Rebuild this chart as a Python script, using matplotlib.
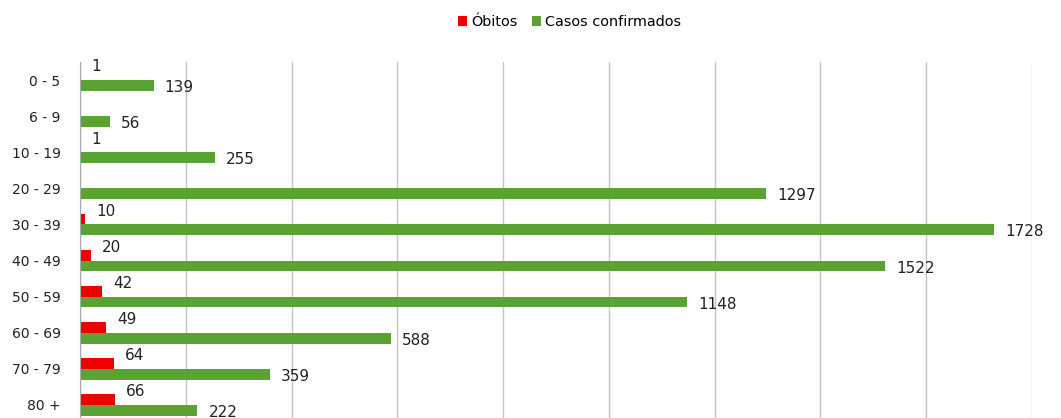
import matplotlib

matplotlib.use("Agg")
import matplotlib.pyplot as plt
import numpy as np

age_groups = ["0 - 5", "6 - 9", "10 - 19", "20 - 29", "30 - 39",
              "40 - 49", "50 - 59", "60 - 69", "70 - 79", "80 +"]
obitos = [1, 0, 1, 0, 10, 20, 42, 49, 64, 66]
casos = [139, 56, 255, 1297, 1728, 1522, 1148, 588, 359, 222]

RED = "#ee0000"
GREEN = "#5aa232"


def main():
    fig = plt.figure(figsize=(10.61, 4.18), dpi=100)
    ax = fig.add_axes([0.0754, -0.012, 0.8973, 0.8637])

    y = np.arange(len(age_groups))
    bar_h = 0.3
    ax.barh(y - 0.15, obitos, height=bar_h, color=RED, label="Óbitos")
    ax.barh(y + 0.15, casos, height=bar_h, color=GREEN, label="Casos confirmados")

    for yi, v in zip(y, obitos):
        if v > 0:
            ax.annotate(str(v), (v, yi - 0.15), xytext=(8, 5.5),
                        textcoords="offset points", ha="left", va="center",
                        fontsize=11, color="#222222")
    for yi, v in zip(y, casos):
        ax.annotate(str(v), (v, yi + 0.15), xytext=(8, -1.5),
                    textcoords="offset points", ha="left", va="center",
                    fontsize=11, color="#222222")

    ax.set_xlim(0, 1800)
    ax.set_ylim(len(age_groups) - 0.5, -0.5)
    ax.set_xticks(np.arange(0, 1801, 200))
    ax.xaxis.grid(True, color="#c4c4c4", linewidth=1)
    ax.set_axisbelow(True)
    ax.tick_params(axis="x", length=0, labelbottom=False)
    ax.set_yticks(y)
    ax.set_yticklabels(age_groups, fontsize=10, color="#222222")
    ax.tick_params(axis="y", length=0, pad=14)
    for side in ("top", "right", "bottom"):
        ax.spines[side].set_visible(False)
    ax.spines["left"].set_color("#aaaaaa")

    fig.legend(loc="center", bbox_to_anchor=(0.537, 0.947), ncol=2,
               frameon=False, fontsize=10.4, handlelength=0.6, handleheight=0.6,
               handletextpad=0.3, columnspacing=1.0)

    fig.savefig("out.png", dpi=100)
    plt.close(fig)


if __name__ == "__main__":
    main()
